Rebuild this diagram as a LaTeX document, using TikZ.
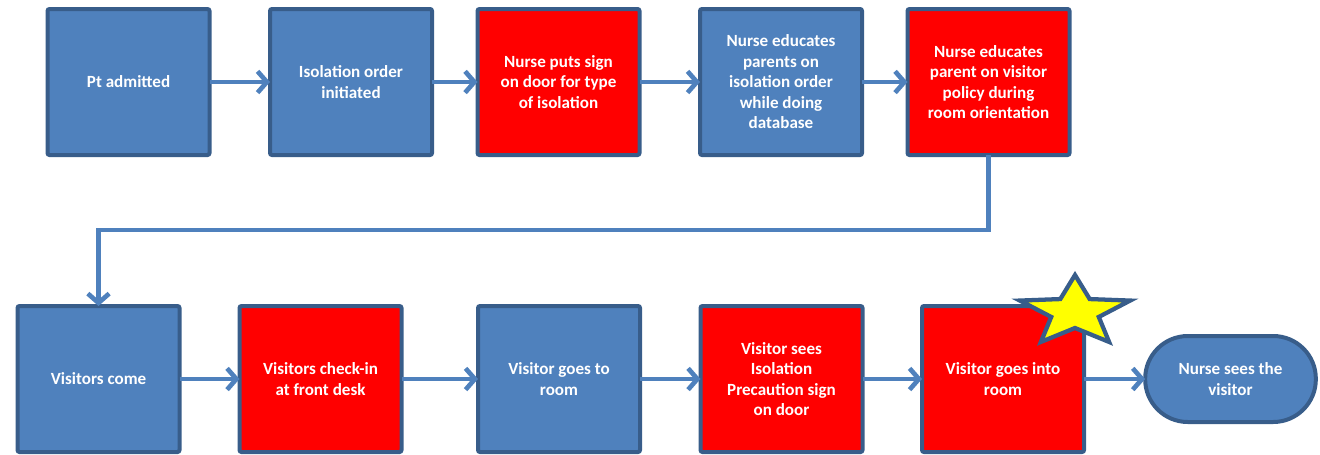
\documentclass[tikz,border=0pt]{standalone}
\usepackage{fontspec}
\setmainfont{Carlito}
\usetikzlibrary{arrows.meta}
\definecolor{boxblue}{HTML}{4F81BD}
\definecolor{edgeblue}{HTML}{385D8A}
\definecolor{boxred}{HTML}{FF0000}
\definecolor{staryellow}{HTML}{FFFF00}
\tikzset{
  stepbox/.style={draw=edgeblue, line width=3pt, rounded corners=1.5pt,
    minimum width=121.5pt, minimum height=109.5pt, inner sep=0pt, outer sep=0pt,
    text=white, align=center, font=\fontsize{12.8}{15.4}\selectfont\bfseries},
  bluebox/.style={stepbox, fill=boxblue},
  redbox/.style={stepbox, fill=boxred},
  endbox/.style={stepbox, fill=boxblue, minimum width=128pt, minimum height=64.5pt, rounded corners=32pt},
  flow/.style={draw=boxblue, line width=3.5pt, -{Straight Barb[length=7pt,width=16pt]}},
  starshape/.style={draw=edgeblue, fill=staryellow, line width=3.2pt, line join=miter}
}
\begin{document}
\begin{tikzpicture}[x=0.75pt,y=-0.75pt]
\useasboundingbox (0,0) rectangle (1320,454);
\clip (0,0) rectangle (1320,454);
% row 1
\node[bluebox] (n1) at (128.5,82) {Pt admitted};
\node[bluebox] (n2) at (351,82) {Isolation order\\initiated};
\node[redbox]  (n3) at (558.5,82) {Nurse puts sign\\on door for type\\of isolation};
\node[bluebox] (n4) at (781,82) {Nurse educates\\parents on\\isolation order\\while doing\\database};
\node[redbox]  (n5) at (988.5,82) {Nurse educates\\parent on visitor\\policy during\\room orientation};
% row 2
\node[bluebox] (m1) at (98.5,379) {Visitors come};
\node[redbox]  (m2) at (320.5,379) {Visitors check-in\\at front desk};
\node[bluebox] (m3) at (559,379) {Visitor goes to\\room};
\node[redbox]  (m4) at (781.5,379) {Visitor sees\\Isolation\\Precaution sign\\on door};
\node[redbox]  (m5) at (1003,379) {Visitor goes into\\room};
\node[endbox]  (m6) at (1230.5,379) {Nurse sees the\\visitor};
% star
\begin{scope}[shift={(1075,312)}, yscale=-1]
\draw[starshape]
  (90:58 and 37) -- (126:25 and 16) -- (162:58 and 37) -- (198:25 and 16) --
  (234:58 and 37) -- (270:25 and 16) -- (306:58 and 37) -- (342:25 and 16) --
  (18:58 and 37) -- (54:25 and 16) -- cycle;
\end{scope}
% connectors
\draw[flow] (n1.east) -- (n2.west);
\draw[flow] (n2.east) -- (n3.west);
\draw[flow] (n3.east) -- (n4.west);
\draw[flow] (n4.east) -- (n5.west);
\coordinate (elb) at (500,230);
\draw[flow] (n5.south) |- (elb) -| (m1.north);
\draw[flow] (m1.east) -- (m2.west);
\draw[flow] (m2.east) -- (m3.west);
\draw[flow] (m3.east) -- (m4.west);
\draw[flow] (m4.east) -- (m5.west);
\draw[flow] (m5.east) -- (m6.west);
\end{tikzpicture}
\end{document}
